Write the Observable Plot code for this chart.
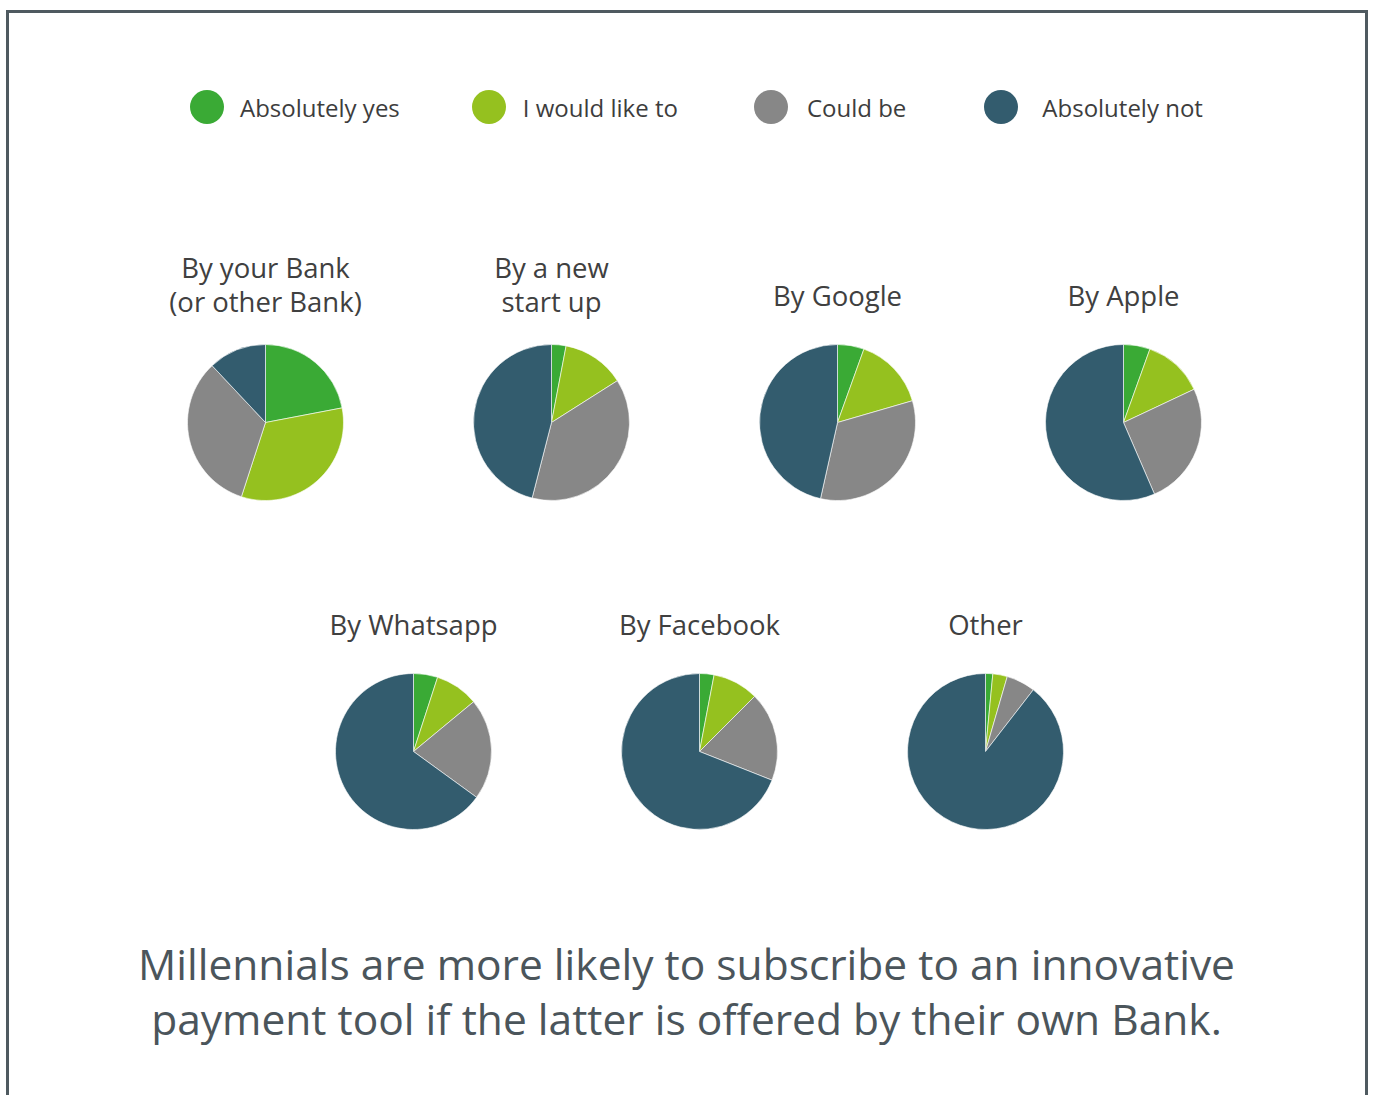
<!DOCTYPE html>
<html><head><meta charset="utf-8">
<script src="https://cdn.jsdelivr.net/npm/d3@7"></script>
<script src="https://cdn.jsdelivr.net/npm/@observablehq/plot@0.6"></script>
<style>
html,body{margin:0;padding:0;background:#fff;overflow:hidden;}
body{font-family:"Open Sans","Noto Sans",sans-serif;width:1373px;height:1095px;position:relative;}
#frame{position:absolute;left:6px;top:10px;width:1356px;height:1200px;border:3px solid #4f5a60;border-bottom:none;box-sizing:content-box;}
#legend{position:absolute;left:0;top:89px;width:1373px;height:36px;display:flex;justify-content:flex-start;align-items:center;padding-left:190px;box-sizing:border-box;}
.item{display:flex;align-items:center;font-size:24px;color:#3d3d3d;white-space:nowrap;}
.sw{width:34px;height:34px;border-radius:50%;margin-right:16px;flex:none;}
.item:nth-child(2){margin-left:72px;}
.item:nth-child(2) .sw{margin-right:17px;}
.item:nth-child(3){margin-left:76px;}
.item:nth-child(3) .sw{margin-right:19px;}
.item:nth-child(4){margin-left:78px;}
.item:nth-child(4) .sw{margin-right:24px;}
#chart{position:absolute;left:0;top:200px;}
#caption{position:absolute;left:0;top:936px;width:1373px;text-align:center;font-size:42.5px;line-height:55px;color:#4b555b;}
</style></head><body>
<div id="frame"></div>
<div id="legend"></div>
<div id="chart"></div>
<div id="caption"></div>
<script>
const answers = ["Absolutely yes", "I would like to", "Could be", "Absolutely not"];
const answerColors = ["#3aaa35", "#95c11f", "#878787", "#335c6e"];
const topRow = ["By your Bank\n(or other Bank)", "By a new\nstart up", "By Google", "By Apple"];
const bottomRow = ["By Whatsapp", "By Facebook", "Other"];
// values in %, in the order topRow then bottomRow
const absolutelyYes = [22, 3, 5.5, 5.5, 5, 3, 1.5];
const wouldLikeTo   = [33, 13, 15, 12.5, 9, 9.5, 3];
const couldBe       = [33, 38, 33, 25.5, 21, 18.5, 6];
const absolutelyNot = [12, 46, 46.5, 56.5, 65, 69, 89.5];
const captionLines = ["Millennials are more likely to subscribe to an innovative", "payment tool if the latter is offered by their own Bank."];

const categories = [...topRow, ...bottomRow];
const rowOf = (name) => topRow.includes(name) ? "top" : "bottom";
const series = [absolutelyYes, wouldLikeTo, couldBe, absolutelyNot];

// pie sector as a custom symbol (size = area of the full circle)
const sector = (a0, a1) => ({
  draw(ctx, size) {
    const r = Math.sqrt(size / Math.PI);
    ctx.moveTo(0, 0);
    ctx.arc(0, 0, r, a0 - Math.PI / 2, a1 - Math.PI / 2, false);
    ctx.closePath();
  }
});

const slices = categories.flatMap((name, i) => {
  const vals = series.map(s => s[i]);
  const arcs = d3.pie().sort(null).value(d => d)(vals);
  return arcs.map((a, k) => ({
    name, row: rowOf(name), answer: answers[k], value: vals[k],
    symbol: sector(a.startAngle, a.endAngle)
  }));
});

const titles = categories.map(name => ({name, row: rowOf(name), lines: name.split("\n").length}));

// interleave the two rows along x
const xOrder = [];
for (let i = 0; i < topRow.length; i++) {
  xOrder.push(topRow[i]);
  if (i < bottomRow.length) xOrder.push(bottomRow[i]);
}

const font = "'Open Sans', 'Noto Sans', sans-serif";
const pieOpts = {x: "name", y: "row", fill: "answer", symbol: "symbol", r: 78, stroke: "white", strokeWidth: 0.6};
const titleOpts = {x: "name", y: "row", text: "name", fontSize: 27.5, fill: "#404040"};
const chart = Plot.plot({
  width: 1373,
  height: 660,
  marginTop: 222,
  marginBottom: 109,
  marginLeft: 265,
  marginRight: 250,
  style: {fontFamily: font, background: "transparent"},
  x: {type: "point", domain: xOrder, padding: 0, axis: null},
  y: {type: "point", domain: ["top", "bottom"], padding: 0, axis: null},
  color: {domain: answers, range: answerColors},
  marks: [
    Plot.dot(slices.filter(d => d.row === "top"), pieOpts),
    Plot.dot(slices.filter(d => d.row === "bottom"), {...pieOpts, dx: 5}),
    Plot.text(titles.filter(d => d.lines > 1), {...titleOpts, dy: -138, lineHeight: 1.24}),
    Plot.text(titles.filter(d => d.lines === 1 && d.row === "top"), {...titleOpts, dy: -125}),
    Plot.text(titles.filter(d => d.row === "bottom"), {...titleOpts, dy: -125, dx: 5})
  ]
});
document.getElementById("chart").appendChild(chart);

const legend = d3.select("#legend");
answers.forEach((a, i) => {
  const it = legend.append("div").attr("class", "item");
  it.append("div").attr("class", "sw").style("background", answerColors[i]);
  it.append("span").text(a);
});
d3.select("#caption").selectAll("div").data(captionLines).join("div").text(d => d);
</script>
</body></html>
